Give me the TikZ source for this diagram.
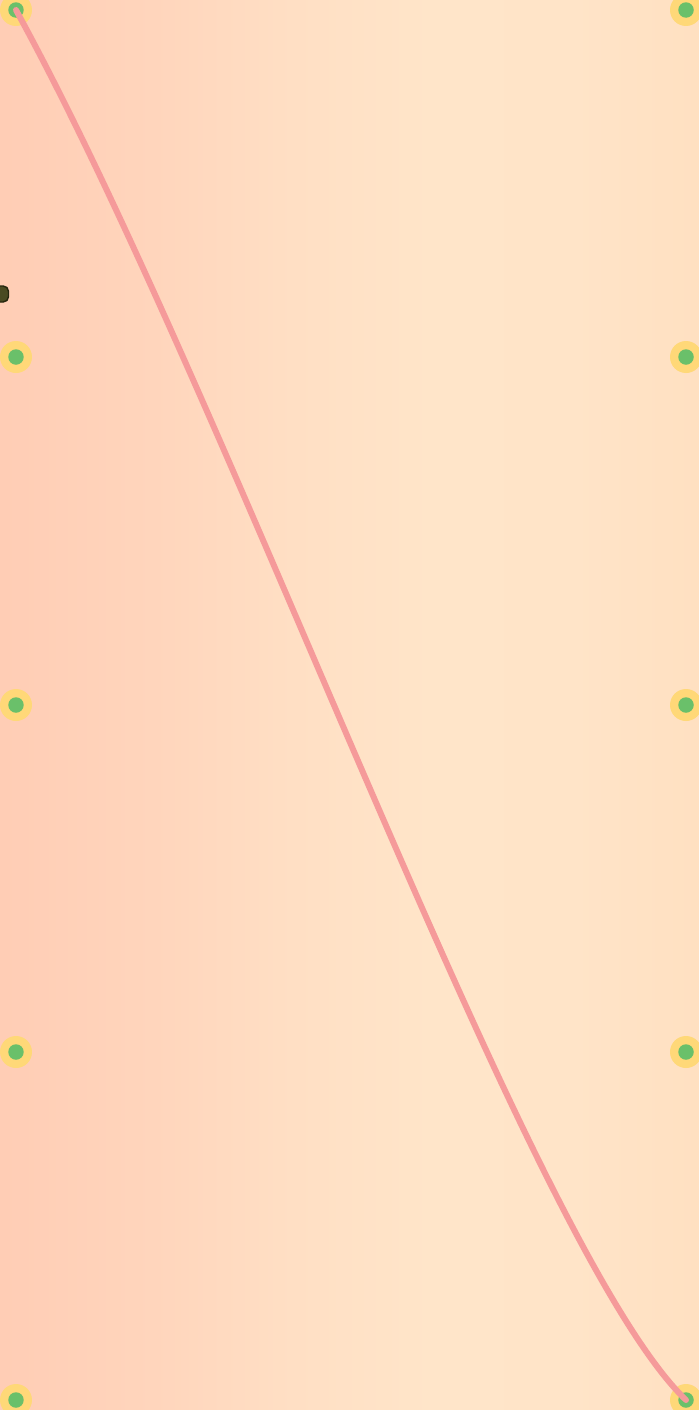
\documentclass[tikz,border=0pt]{standalone}
\usetikzlibrary{positioning, shapes.geometric}

\definecolor{ringyellow}{HTML}{FFD878}
\definecolor{dotgreen}{HTML}{6AC06A}
\definecolor{linkpink}{HTML}{F59A9A}
\definecolor{blobolive}{HTML}{4A4A22}
\definecolor{blobedge}{HTML}{26260E}

\pgfdeclarehorizontalshading{peachfade}{100bp}{
    color(0bp)=(rgb,255:red,255;green,205;blue,181);
    color(25bp)=(rgb,255:red,255;green,205;blue,181);
    color(36bp)=(rgb,255:red,255;green,213;blue,188);
    color(46bp)=(rgb,255:red,255;green,223;blue,196);
    color(56bp)=(rgb,255:red,255;green,229;blue,201);
    color(66bp)=(rgb,255:red,255;green,228;blue,200);
    color(75bp)=(rgb,255:red,255;green,224;blue,193);
    color(100bp)=(rgb,255:red,255;green,224;blue,193)}

\begin{document}
\begin{tikzpicture}[
    x=0.02cm, y=-0.02cm,
    pin/.style={
        circle,
        fill=ringyellow,
        minimum size=0.64cm,
        inner sep=0pt
    },
    pincore/.style={
        circle,
        fill=dotgreen,
        minimum size=0.31cm,
        inner sep=0pt
    },
    link/.style={
        draw=linkpink,
        line width=3.4pt,
        line cap=round
    }
]

% Background
\useasboundingbox (0,0) rectangle (699,1410);
\clip (0,0) rectangle (699,1410);
\fill[shading=peachfade] (0,0) rectangle (699,1410);

% Pins on both edges
\foreach \i/\y in {1/10, 2/357, 3/705, 4/1052, 5/1400} {
    \node[pin] (l\i) at (16,\y) {};
    \node[pincore] (lc\i) at (l\i) {};
    \node[pin] (r\i) at (686,\y) {};
    \node[pincore] (rc\i) at (r\i) {};
}

% Connection
\draw[link] (lc1.center) .. controls (230,400) and (530,1250) .. (rc5.center);

% Small blob at the edge
\node[rectangle, rounded corners=3pt, draw=blobedge, fill=blobolive, line width=0.8pt,
      minimum width=0.34cm, minimum height=0.32cm, inner sep=0pt] (blob) at (0,294) {};

\end{tikzpicture}
\end{document}
